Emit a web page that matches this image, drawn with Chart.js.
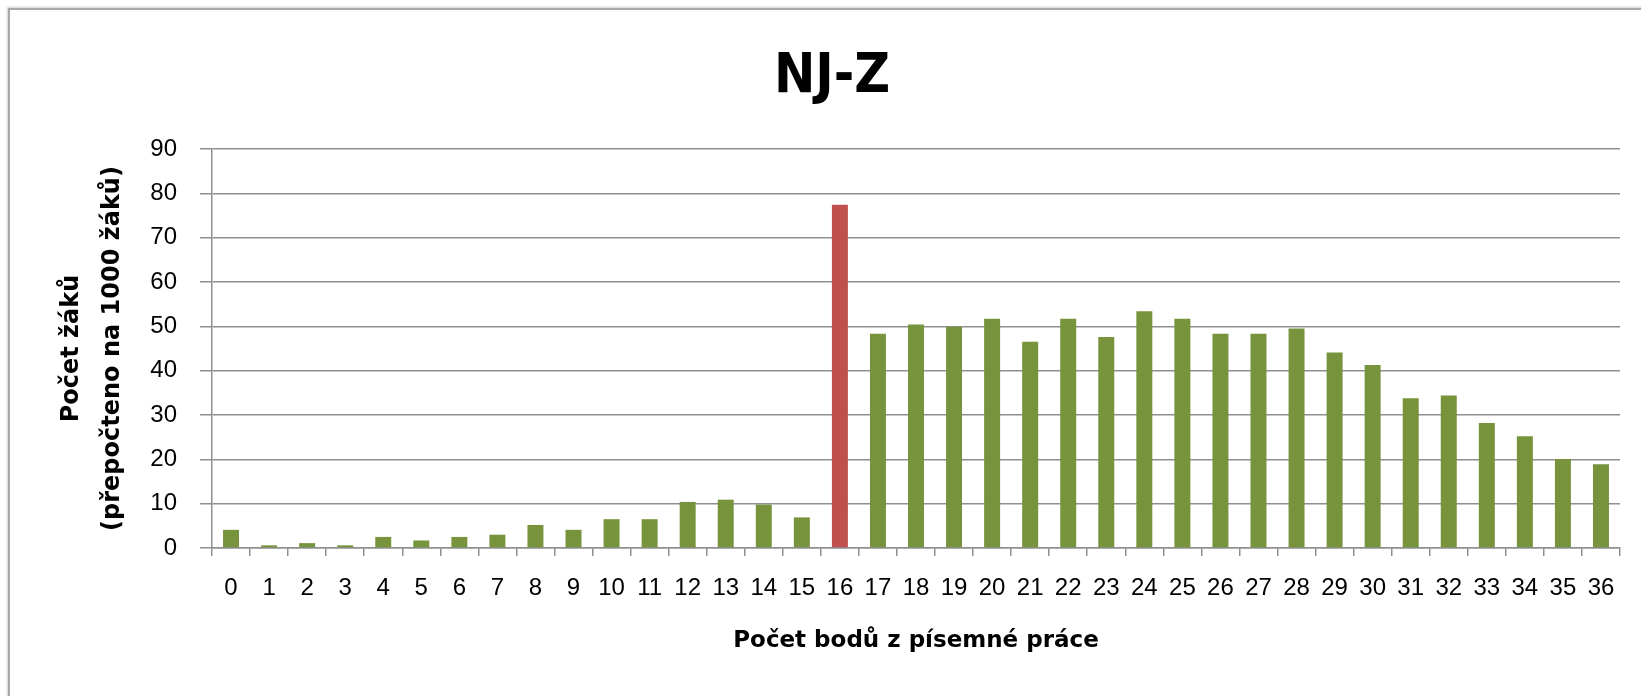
<!DOCTYPE html>
<html>
<head>
<meta charset="utf-8">
<script src="https://cdn.jsdelivr.net/npm/chart.js@4"></script>
<style>
    html, body { margin: 0; padding: 0; background: #fff; }
    #wrap { position: relative; width: 1641px; height: 696px; overflow: hidden; }
    #frame {
        position: absolute; left: 8px; top: 8px; width: 1700px; height: 760px;
        border-left: 2px solid #a9a9a9; border-top: 2px solid #a9a9a9;
        box-shadow: -1px -1px 2px #d0d0d0;
    }
    #chart { position: absolute; left: 0; top: 0; }
</style>
</head>
<body>
<div id="wrap">
    <div id="frame"></div>
    <canvas id="chart" width="1641" height="696"></canvas>
</div>
<script>
// body z písemné práce (0..36)
const scores = ['0', '1', '2', '3', '4', '5', '6', '7', '8', '9', '10', '11', '12', '13', '14', '15', '16', '17', '18',
    '19', '20', '21', '22', '23', '24', '25', '26', '27', '28', '29', '30', '31', '32', '33', '34', '35', '36'];

// počet žáků přepočtený na 1000 žáků
const studentsPer1000 = [4.1, 0.6, 1.1, 0.6, 2.5, 1.7, 2.5, 3.0, 5.2, 4.1, 6.5, 6.5, 10.4, 10.9, 9.8, 6.9, 77.4,
    48.3, 50.4, 49.9, 51.7, 46.5, 51.7, 47.6, 53.4, 51.7, 48.3, 48.3, 49.5, 44.1, 41.3, 33.8, 34.4, 28.2, 25.2, 20.1, 18.9];

const highlightScore = '16';
const yTicks = [0, 10, 20, 30, 40, 50, 60, 70, 80, 90];

const green = '#77933C';
const red = '#C0504D';
const gridColor = '#8f8f8f';

const barColors = scores.map(s => s === highlightScore ? red : green);

const ctx = document.getElementById('chart').getContext('2d');
new Chart(ctx, {
    type: 'bar',
    data: {
        labels: scores,
        datasets: [{
            data: studentsPer1000,
            backgroundColor: barColors,
            borderWidth: 0,
            barPercentage: 0.42,
            categoryPercentage: 1.0
        }]
    },
    options: {
        responsive: false,
        animation: false,
        layout: { padding: { left: 44, right: 21, top: 0, bottom: 0 } },
        plugins: {
            legend: { display: false },
            tooltip: { enabled: false },
            title: {
                display: true,
                text: 'NJ-Z',
                color: '#000',
                font: { family: '"Liberation Sans Narrow", "DejaVu Sans Condensed", "Liberation Sans"', size: 55, weight: 'bold', lineHeight: 1.2 },
                padding: { top: 45, bottom: 38 }
            }
        },
        scales: {
            x: {
                grid: {
                    display: true,
                    drawOnChartArea: false,
                    drawTicks: true,
                    tickLength: 8,
                    color: gridColor,
                    lineWidth: 1.5,
                    offset: true
                },
                border: { display: true, color: gridColor, width: 1.5 },
                ticks: {
                    color: '#000',
                    padding: 18,
                    maxRotation: 0,
                    autoSkip: false,
                    font: { family: '"Liberation Sans"', size: 24, lineHeight: 1.2 }
                },
                title: {
                    display: true,
                    text: 'Počet bodů z písemné práce',
                    color: '#000',
                    font: { family: '"DejaVu Sans"', size: 23, weight: 'bold', lineHeight: 1.2 },
                    padding: { top: 0, bottom: 41 }
                },
                afterFit: scale => { scale.height = 148; }
            },
            y: {
                min: 0,
                max: 90,
                afterBuildTicks: scale => { scale.ticks = yTicks.map(v => ({ value: v })); },
                grid: {
                    color: gridColor,
                    lineWidth: 1.5,
                    tickLength: 12
                },
                border: { display: true, color: gridColor, width: 1.5 },
                ticks: {
                    color: '#000',
                    padding: 23,
                    font: { family: '"Liberation Sans"', size: 24, lineHeight: 1.2 }
                },
                title: {
                    display: true,
                    text: ['Počet žáků', '(přepočteno na 1000 žáků)'],
                    color: '#000',
                    font: { family: '"DejaVu Sans"', size: 24, weight: 'bold', lineHeight: 1.7 },
                    padding: { top: 7.5, bottom: 0 }
                },
                afterFit: scale => { scale.width = 168; }
            }
        }
    }
});
</script>
</body>
</html>
